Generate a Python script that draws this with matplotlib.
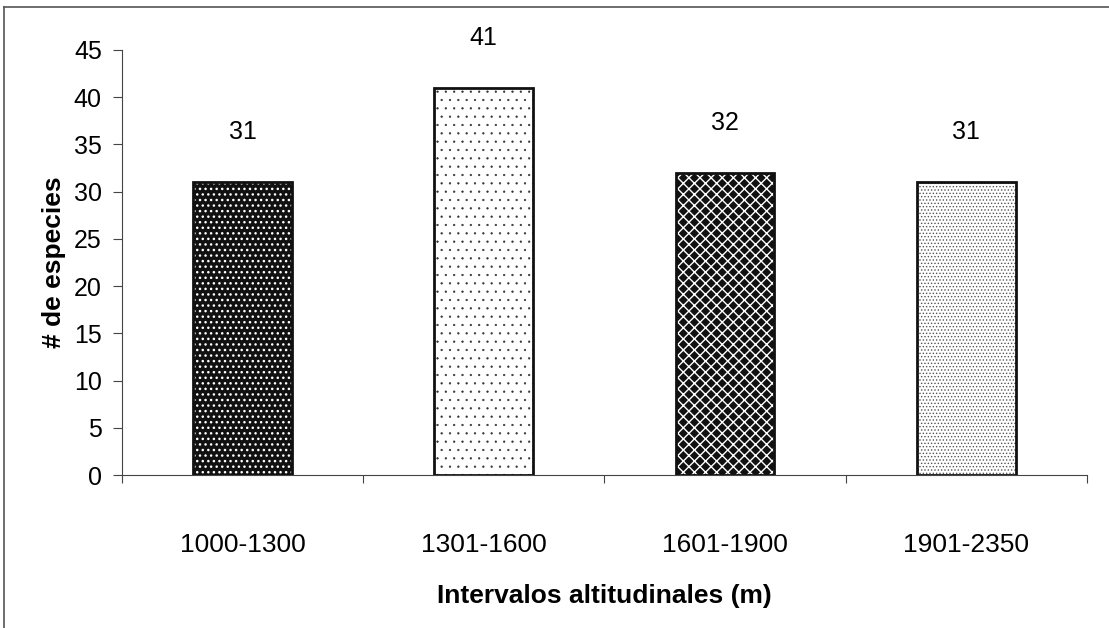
import matplotlib
matplotlib.use("Agg")
import matplotlib.pyplot as plt
from matplotlib.lines import Line2D

plt.rcParams['font.family'] = ['Liberation Sans', 'DejaVu Sans']
plt.rcParams['hatch.linewidth'] = 1.0

intervalos = ['1000-1300', '1301-1600', '1601-1900', '1901-2350']
especies = [31, 41, 32, 31]

# fondo, trama, color y grosor de trama
fondos = ['#111111', 'white', '#111111', 'white']
tramas = ['...', '..', 'xxx', '.....']
color_trama = ['white', '#333333', 'white', '#555555']
grosor_trama = [1.0, 0.4, 1.0, 0.6]

fig = plt.figure(figsize=(11.09, 6.28), dpi=100)
ax = fig.add_axes([0.110, 0.2436, 0.870, 0.677])

x = range(len(intervalos))
for i in x:
    with plt.rc_context({'hatch.linewidth': grosor_trama[i]}):
        ax.bar(i, especies[i], width=0.41, color=fondos[i], hatch=tramas[i],
               edgecolor=color_trama[i], linewidth=0)
    ax.bar(i, especies[i], width=0.41, fill=False, edgecolor='#111111', linewidth=2)
    ax.annotate(str(especies[i]), (i, especies[i]), xytext=(0, 36),
                textcoords='offset points', ha='center', va='center', fontsize=18)

ax.set_xlim(-0.5, len(intervalos) - 0.5)
ax.set_ylim(0, 45)
ax.set_yticks(range(0, 46, 5))
ax.set_xticks([i - 0.5 for i in range(len(intervalos) + 1)])
ax.set_xticklabels([])
ax.set_xticks(list(x), minor=True)
ax.set_xticklabels(intervalos, minor=True, fontsize=19)
ax.tick_params(axis='x', which='minor', length=0, pad=42)
ax.tick_params(axis='x', which='major', length=6, direction='out', color='#444444')
ax.tick_params(axis='y', length=6.5, direction='out', labelsize=18, pad=8, color='#444444')

ax.spines['top'].set_visible(False)
ax.spines['right'].set_visible(False)
ax.spines['left'].set_color('#444444')
ax.spines['bottom'].set_color('#444444')

ax.set_ylabel('# de especies', fontsize=19, fontweight='bold', labelpad=6)
ax.set_xlabel('Intervalos altitudinales (m)', fontsize=19, fontweight='bold', labelpad=19)

# marco de la figura
fig.add_artist(Line2D([0.004, 1.0], [0.989, 0.989], color='#555555', linewidth=1.2))
fig.add_artist(Line2D([0.004, 0.004], [0.0, 0.989], color='#555555', linewidth=1.2))

fig.savefig('out.png', dpi=100)
